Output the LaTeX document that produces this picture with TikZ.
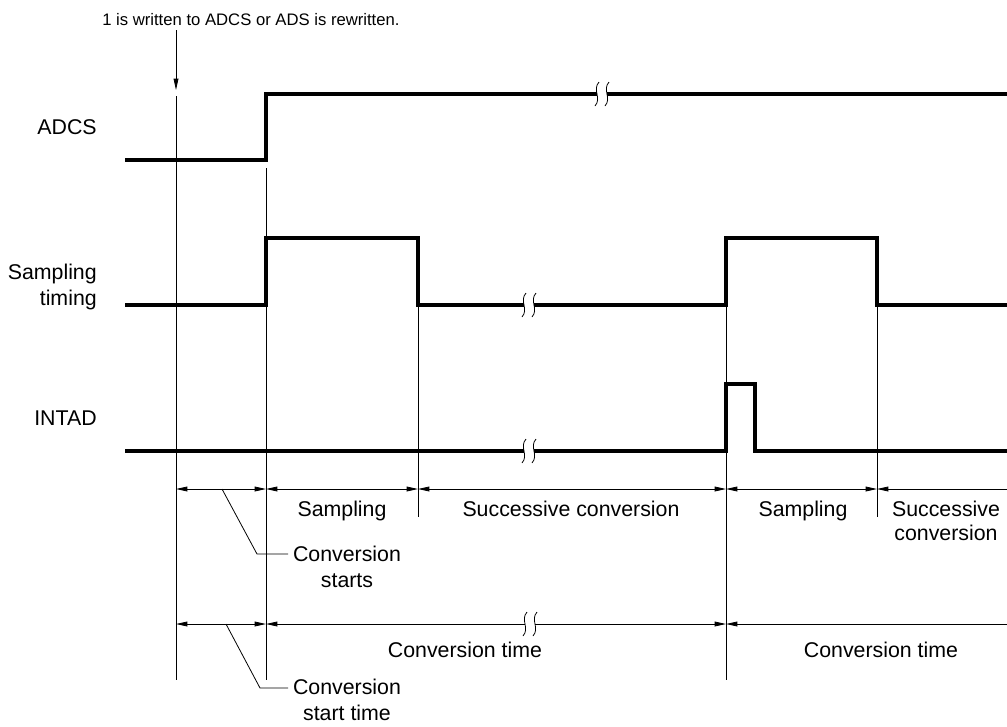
\documentclass[tikz,border=0pt]{standalone}
\usepackage{fontspec}
\setmainfont{Liberation Sans}
\usetikzlibrary{arrows.meta,calc,positioning}

\begin{document}
\begin{tikzpicture}[x=0.75pt,y=-0.75pt,>={Triangle[length=8.5pt,width=3.6pt]},
    sig/.style={line width=2.6pt,line join=miter},
    guide/.style={line width=0.6pt},
    dim/.style={guide,<->},
    lbl/.style={font=\fontsize{16}{19}\selectfont,inner sep=0pt,align=center,anchor=base},
    rowlabel/.style={lbl,anchor=base east,align=right},
    brk/.pic={
      \fill[white] (-5,-3) rectangle (5,3);
      \draw[line width=0.6pt] (-3,-12) .. controls (-10,-4) and (0,4) .. (-7,12)
        (7,-12) .. controls (0,-4) and (10,4) .. (3,12);
    }]
    \useasboundingbox (0,0) rectangle (1007,726);
    \node[lbl,anchor=base west,font=\fontsize{12.5}{15}\selectfont] (wr) at (102,25) {1 is written to ADCS or ADS is rewritten.};
    \node[rowlabel] (adcs) at (97,134) {ADCS};
    \node[rowlabel] (smp) at (97,305) {Sampling\\timing};
    \node[rowlabel] (intad) at (97,425) {INTAD};
    \coordinate (wtip) at (176,90);
    \draw[guide,->] (wr.south -| wtip) ++(0,5) -- (wtip);
    \draw[sig] (125,160) -- (266,160) -- (266,94) -- (1007,94);
    \draw[sig] (125,305) -- (266,305) -- (266,238) -- (418,238) -- (418,305) -- (726,305)
      -- (726,238) -- (877,238) -- (877,305) -- (1007,305);
    \draw[sig] (125,451) -- (726,451) -- (726,384) -- (755,384) -- (755,451) -- (1007,451);
    \draw[guide] (176,96) -- (176,680);
    \draw[guide] (266,168) -- (266,680);
    \draw[guide] (418,305) -- (418,517);
    \draw[guide] (726,238) -- (726,680);
    \draw[guide] (877,305) -- (877,517);
    \coordinate (ra) at (176,489);
    \coordinate (rb) at (266,489);
    \coordinate (rc) at (418,489);
    \coordinate (rd) at (726,489);
    \coordinate (re) at (877,489);
    \coordinate (rf) at (1007,489);
    \draw[dim] (ra) -- (rb);
    \draw[dim] (rb) -- (rc);
    \draw[dim] (rc) -- (rd);
    \draw[dim] (rd) -- (re);
    \draw[guide,<-] (re) -- (rf);
    \coordinate (sa) at (176,624);
    \coordinate (sb) at (266,624);
    \coordinate (sc) at (726,624);
    \coordinate (sd) at (1007,624);
    \draw[dim] (sa) -- (sb);
    \draw[dim] (sb) -- (sc);
    \draw[guide,<-] (sc) -- (sd);
    \pic at (602,94) {brk};
    \pic at (529,305) {brk};
    \pic at (529,451) {brk};
    \pic at (530,624) {brk};
    \node[lbl] (sp1) at (342,516) {Sampling};
    \node[lbl] (sc1) at (571,516) {Successive conversion};
    \node[lbl] (sp2) at (803,516) {Sampling};
    \node[lbl,font=\fontsize{16}{17.5}\selectfont] (sc2) at (946,540) {Successive\\conversion};
    \node[lbl] (ct1) at (465,657) {Conversion time};
    \node[lbl] (ct2) at (881,657) {Conversion time};
    \node[lbl] (cst) at (347,587) {Conversion\\starts};
    \node[lbl] (cstt) at (347,720) {Conversion\\start time};
    \draw[guide] (222,489) -- (257,554) -- (288,554);
    \draw[guide] (226,624) -- (260,688) -- (288,688);
\end{tikzpicture}
\end{document}
